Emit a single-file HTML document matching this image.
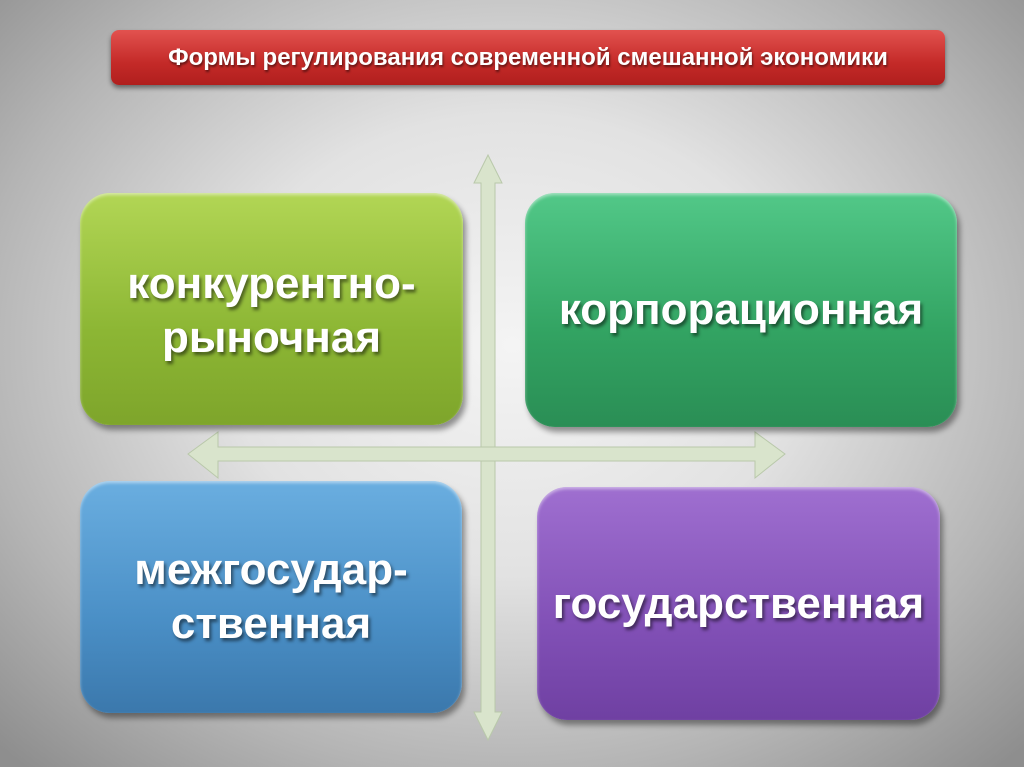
<!DOCTYPE html>
<html><head><meta charset="utf-8"><style>
body{margin:0;width:1024px;height:767px;overflow:hidden;font-family:"Liberation Sans","DejaVu Sans",sans-serif;
background:radial-gradient(ellipse 70% 75% at 50% 45%,#f4f4f4 0%,#e2e2e2 40%,#b4b4b4 75%,#8e8e8e 100%);position:relative}
.t{position:absolute;left:111px;top:30px;width:834px;height:55px;border-radius:8px;
background:linear-gradient(#e2524f,#c42a28 60%,#b01f1e);box-shadow:0 3px 5px rgba(0,0,0,.45);
color:#fff;font-weight:bold;font-size:24px;line-height:55px;text-align:center;text-shadow:1px 2px 2px rgba(0,0,0,.5)}
.b{position:absolute;border-radius:30px;color:#fff;font-size:44px;font-weight:bold;display:flex;align-items:center;justify-content:center;text-align:center;line-height:54px;
text-shadow:2px 3px 3px rgba(0,0,0,.5);box-shadow:3px 5px 6px rgba(0,0,0,.4),inset 0 2px 3px rgba(255,255,255,.5)}
</style></head><body>
<div class="t">Формы регулирования современной смешанной экономики</div>
<svg width="1024" height="767" style="position:absolute;left:0;top:0">
<g fill="#d9e4cc" stroke="#b9c8aa" stroke-width="1">
<polygon points="481,183 474,183 488,155 502,183 495,183 495,712 502,712 488,740 474,712 481,712"/>
<polygon points="218,447 218,432 188,454 218,478 218,461 755,461 755,478 785,454 755,432 755,447"/>
</g>
</svg>
<div class="b" style="left:80px;top:193px;width:383px;height:232px;background:linear-gradient(#b2d655,#8cb634 60%,#7ea52b)"><div style="margin-top:4px">конкурентно-<br>рыночная</div></div>
<div class="b" style="left:525px;top:193px;width:432px;height:234px;background:linear-gradient(#52c888,#32a362 60%,#2a8e55)">корпорационная</div>
<div class="b" style="left:80px;top:481px;width:382px;height:232px;background:linear-gradient(#6aaee0,#4a8fc6 60%,#3b78ac)">межгосудар-<br>ственная</div>
<div class="b" style="left:537px;top:487px;width:403px;height:233px;background:linear-gradient(#9f6fd0,#8150b6 60%,#6f40a2)">государственная</div>
</body></html>
